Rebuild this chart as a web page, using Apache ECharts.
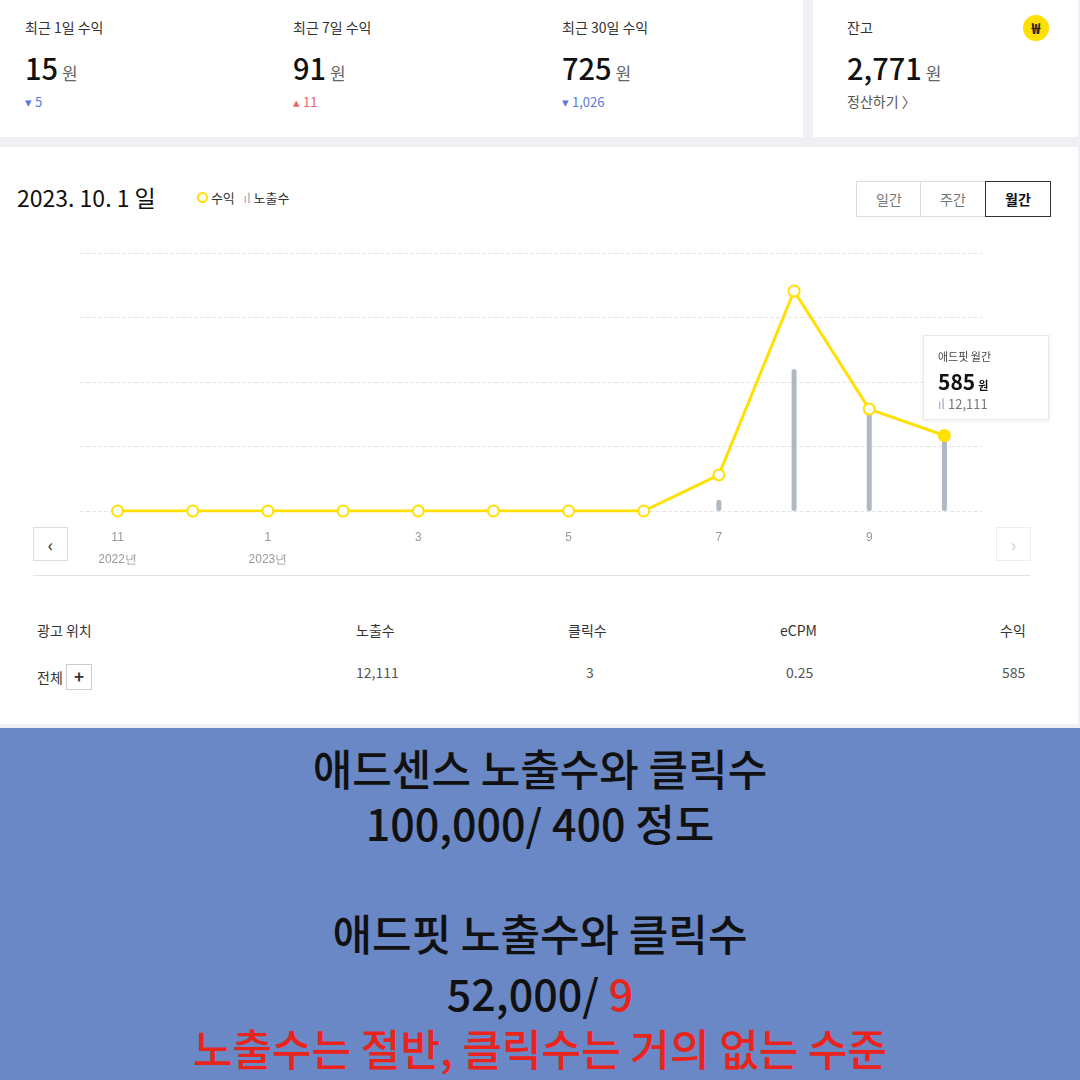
<!DOCTYPE html>
<html><head><meta charset="utf-8">
<script src="https://cdn.jsdelivr.net/npm/echarts@6/dist/echarts.min.js"></script>
<style>
body{margin:0;width:1080px;height:1080px;background:#eef0f3;font-family:"Noto Sans CJK KR","Noto Sans",sans-serif;position:relative;overflow:hidden;color:#222}
.abs{position:absolute}
.card{position:absolute;background:#fff}
.lbl{font-size:14px;color:#333}
.big{font-size:29px;font-weight:500;color:#111}
.big span{font-size:17px;color:#666;font-weight:400;margin-left:4px}
.sm{font-size:13px}
.btn{position:absolute;top:181px;height:34px;border:1px solid #ddd;font-size:14px;color:#777;text-align:center;line-height:34px;background:#fff}
.banner{position:absolute;left:0;top:728px;width:1080px;height:352px;background:#6a87c6;text-align:center;font-size:43px;font-weight:500;color:#111}
.banner div{position:absolute;left:0;width:1080px}
</style></head><body>
<div class="card" style="left:0;top:0;width:803px;height:137px"></div>
<div class="card" style="left:813px;top:0;width:265px;height:137px"></div>
<div class="card" style="left:0;top:147px;width:1078px;height:577px"></div>

<div class="abs lbl" style="left:25px;top:17px">최근 1일 수익</div>
<div class="abs big" style="left:25px;top:46px">15<span>원</span></div>
<div class="abs sm" style="left:25px;top:92px;color:#5b78e0">▾ 5</div>
<div class="abs lbl" style="left:293px;top:17px">최근 7일 수익</div>
<div class="abs big" style="left:293px;top:46px">91<span>원</span></div>
<div class="abs sm" style="left:293px;top:92px;color:#f06464">▴ 11</div>
<div class="abs lbl" style="left:562px;top:17px">최근 30일 수익</div>
<div class="abs big" style="left:562px;top:46px">725<span>원</span></div>
<div class="abs sm" style="left:562px;top:92px;color:#5b78e0">▾ 1,026</div>
<div class="abs lbl" style="left:847px;top:17px">잔고</div>
<div class="abs" style="left:1023px;top:15px;width:26px;height:26px;border-radius:13px;background:#ffe000;text-align:center;line-height:26px;font-size:15px;font-weight:700">₩</div>
<div class="abs big" style="left:847px;top:46px">2,771<span>원</span></div>
<div class="abs lbl" style="left:847px;top:91px;color:#555">정산하기 〉</div>

<div class="abs" style="left:17px;top:180px;font-size:23px;color:#111">2023. 10. 1 일</div>
<div class="abs sm" style="left:197px;top:188px;color:#333"><span style="display:inline-block;width:7px;height:7px;border:2px solid #ffe000;border-radius:6px"></span> 수익 &nbsp;&nbsp;<span style="color:#aab">ıl</span> 노출수</div>
<div class="btn" style="left:856px;width:64px">일간</div>
<div class="btn" style="left:920px;width:64px">주간</div>
<div class="btn" style="left:985px;width:64px;border-color:#333;color:#111;font-weight:600">월간</div>

<div id="chart" class="abs" style="left:0;top:240px;width:1080px;height:340px"></div>

<div class="abs" style="left:33px;top:527px;width:33px;height:32px;border:1px solid #ddd;background:#fff;text-align:center;line-height:32px;font-size:18px">‹</div>
<div class="abs" style="left:996px;top:527px;width:33px;height:32px;border:1px solid #eee;background:#fff;text-align:center;line-height:32px;font-size:18px;color:#ccc">›</div>
<div class="abs" style="left:33px;top:575px;width:997px;height:1px;background:#e3e3e3"></div>

<div class="abs" style="left:923px;top:335px;width:124px;height:83px;background:#fff;border:1px solid #e6e8ec;box-shadow:0 1px 4px rgba(0,0,0,0.08)">
 <div style="position:absolute;left:14px;top:12px;font-size:11px;color:#444">애드핏 월간</div>
 <div style="position:absolute;left:14px;top:30px;font-size:21px;font-weight:600;color:#111">585<span style="font-size:11px;margin-left:3px">원</span></div>
 <div style="position:absolute;left:14px;top:58px;font-size:13px;color:#777"><span style="color:#aab">ıl</span> 12,111</div>
</div>

<div class="abs lbl" style="left:37px;top:620px">광고 위치</div>
<div class="abs lbl" style="left:356px;top:620px">노출수</div>
<div class="abs lbl" style="left:568px;top:620px">클릭수</div>
<div class="abs lbl" style="left:780px;top:620px">eCPM</div>
<div class="abs lbl" style="left:1000px;top:620px">수익</div>
<div class="abs lbl" style="left:37px;top:664px">전체 <span style="display:inline-block;width:24px;height:24px;border:1px solid #ccc;text-align:center;line-height:22px;font-weight:700;font-size:17px">+</span></div>
<div class="abs lbl" style="left:356px;top:662px;color:#555">12,111</div>
<div class="abs lbl" style="left:586px;top:662px;color:#555">3</div>
<div class="abs lbl" style="left:786px;top:662px;color:#555">0.25</div>
<div class="abs lbl" style="left:1002px;top:662px;color:#555">585</div>

<div class="banner">
 <div style="top:8px">애드센스 노출수와 클릭수</div>
 <div style="top:63px">100,000/ 400 정도</div>
 <div style="top:173px">애드핏 노출수와 클릭수</div>
 <div style="top:233px">52,000/ <span style="color:#e8241c">9</span></div>
 <div style="top:288px;color:#e8241c">노출수는 절반, 클릭수는 거의 없는 수준</div>
</div>

<script>
const months = ['11', '12', '1', '2', '3', '4', '5', '6', '7', '8', '9', '10'];
const years = {0: '2022년', 2: '2023년'};
const revenue = [0, 0, 0, 0, 0, 0, 0, 0, 280, 1705, 790, 585];
const impressions = [0, 0, 0, 0, 0, 0, 0, 0, 1900, 24200, 16900, 12111];

const chart = echarts.init(document.getElementById('chart'));
chart.setOption({
    animation: false,
    grid: { left: 80, top: 13, width: 902, height: 258 },
    xAxis: {
        type: 'category',
        data: months,
        axisLine: { show: false },
        axisTick: { show: false },
        axisLabel: {
            margin: 17,
            formatter: (v, i) => {
                if (i === months.length - 1) return '{cur|' + v + '}';
                return years[i] ? v + '\n{yr|' + years[i] + '}' : v;
            },
            color: '#999', fontSize: 12, verticalAlign: 'top', lineHeight: 20,
            rich: {
                yr: { color: '#999', fontSize: 12, padding: [3, 0, 0, 0] },
                cur: { backgroundColor: '#444', color: '#fff', borderRadius: 10, padding: [4, 5, 3, 5], fontSize: 12 }
            }
        }
    },
    yAxis: [
        { type: 'value', min: 0, max: 2000, interval: 500, axisLabel: { show: false },
          splitLine: { lineStyle: { type: 'dashed', color: '#e6e6e6' } } },
        { type: 'value', min: 0, max: 44000, show: false, splitLine: { show: false } }
    ],
    series: [
        { type: 'bar', yAxisIndex: 1, data: impressions, barWidth: 5,
          itemStyle: { color: '#b0b9c3', borderRadius: 3 } },
        { type: 'line', data: revenue, symbol: 'circle', symbolSize: 11,
          lineStyle: { color: '#ffe000', width: 3 },
          itemStyle: { color: '#fff', borderColor: '#ffe000', borderWidth: 2 },
          data: revenue.map((v, i) => i === revenue.length - 1
              ? { value: v, itemStyle: { color: '#ffe000' } } : v) }
    ]
});
</script>
</body></html>
